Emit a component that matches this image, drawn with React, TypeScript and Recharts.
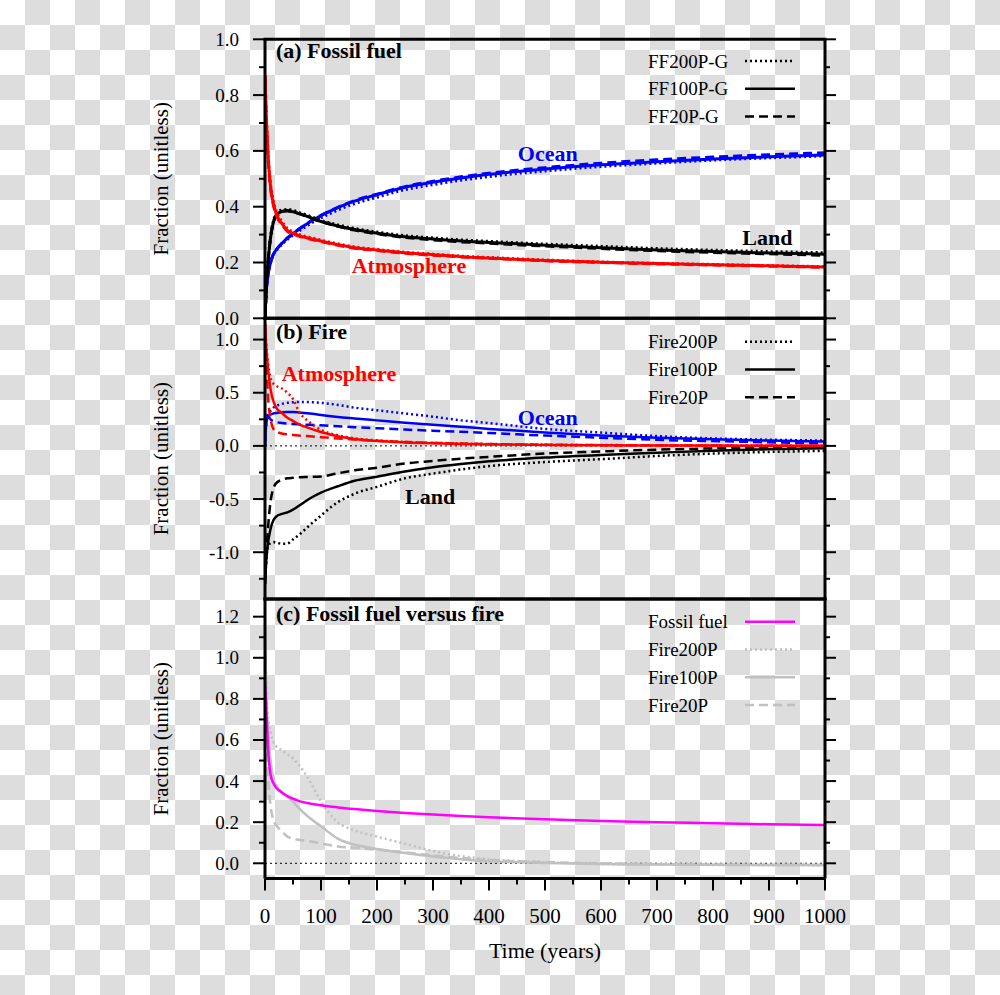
import React from 'react';
import {
  LineChart,
  Line,
  XAxis,
  YAxis,
  ReferenceLine,
  ReferenceDot,
} from 'recharts';

const SERIF = '"Liberation Serif", "Times New Roman", serif';
const RED = '#ff0000';
const BLUE = '#0000ff';
const BLACK = '#000000';
const MAGENTA = '#ff00ff';
const GREY = '#c0c0c0';
const DOT = '2 3';
const DASH = '9 5';

// time axis (years)
const years = [0, 2, 5, 10, 15, 20, 30, 40, 50, 60, 80, 100, 130, 160, 200, 250, 300, 350, 400, 500, 600, 700, 800, 900, 1000];

// (a) fossil fuel pulses
const ffAtm200 = [0.87, 0.75, 0.61, 0.48, 0.42, 0.385, 0.348, 0.322, 0.31, 0.301, 0.29, 0.28, 0.267, 0.256, 0.247, 0.237, 0.23, 0.223, 0.218, 0.209, 0.202, 0.197, 0.193, 0.189, 0.185];
const ffAtm100 = [0.87, 0.74, 0.6, 0.47, 0.41, 0.375, 0.34, 0.315, 0.305, 0.297, 0.286, 0.277, 0.264, 0.253, 0.245, 0.235, 0.228, 0.221, 0.216, 0.207, 0.201, 0.196, 0.192, 0.188, 0.184];
const ffAtm20 = [0.87, 0.73, 0.59, 0.465, 0.405, 0.37, 0.336, 0.312, 0.302, 0.295, 0.284, 0.275, 0.262, 0.251, 0.243, 0.233, 0.226, 0.22, 0.215, 0.206, 0.2, 0.195, 0.191, 0.187, 0.183];
const ffLand200 = [0, 0.1, 0.19, 0.29, 0.348, 0.375, 0.388, 0.39, 0.387, 0.38, 0.366, 0.351, 0.335, 0.322, 0.309, 0.296, 0.288, 0.281, 0.276, 0.266, 0.258, 0.25, 0.244, 0.239, 0.235];
const ffLand100 = [0, 0.1, 0.19, 0.29, 0.345, 0.37, 0.383, 0.386, 0.382, 0.376, 0.362, 0.347, 0.331, 0.318, 0.305, 0.292, 0.284, 0.277, 0.272, 0.262, 0.253, 0.245, 0.239, 0.234, 0.23];
const ffLand20 = [0, 0.1, 0.19, 0.29, 0.344, 0.369, 0.382, 0.385, 0.381, 0.375, 0.361, 0.346, 0.33, 0.316, 0.303, 0.29, 0.281, 0.274, 0.269, 0.259, 0.25, 0.242, 0.236, 0.231, 0.226];
const ffOcn200 = [0, 0.09, 0.15, 0.2, 0.228, 0.243, 0.265, 0.283, 0.298, 0.312, 0.338, 0.36, 0.388, 0.411, 0.434, 0.461, 0.479, 0.495, 0.508, 0.528, 0.544, 0.556, 0.567, 0.575, 0.582];
const ffOcn100 = [0, 0.09, 0.15, 0.2, 0.23, 0.245, 0.268, 0.287, 0.303, 0.318, 0.345, 0.368, 0.397, 0.42, 0.443, 0.47, 0.488, 0.503, 0.516, 0.535, 0.55, 0.561, 0.571, 0.579, 0.585];
const ffOcn20 = [0, 0.09, 0.15, 0.2, 0.23, 0.246, 0.269, 0.288, 0.304, 0.319, 0.346, 0.369, 0.398, 0.422, 0.445, 0.472, 0.491, 0.507, 0.52, 0.54, 0.556, 0.568, 0.578, 0.586, 0.593];

// (b) fire pulses
const fireAtm200 = [1.15, 0.98, 0.8, 0.64, 0.585, 0.565, 0.54, 0.5, 0.44, 0.33, 0.22, 0.15, 0.1, 0.072, 0.052, 0.038, 0.029, 0.023, 0.018, 0.012, 0.008, 0.006, 0.004, 0.003, 0.002];
const fireAtm100 = [1.15, 0.95, 0.75, 0.53, 0.42, 0.36, 0.31, 0.265, 0.235, 0.205, 0.165, 0.13, 0.09, 0.065, 0.045, 0.032, 0.024, 0.018, 0.014, 0.009, 0.006, 0.004, 0.003, 0.002, 0.001];
const fireAtm20 = [1.15, 0.85, 0.5, 0.25, 0.16, 0.135, 0.117, 0.108, 0.103, 0.098, 0.09, 0.082, 0.07, 0.06, 0.048, 0.037, 0.028, 0.022, 0.017, 0.011, 0.007, 0.005, 0.003, 0.002, 0.001];
const fireOcn200 = [0, 0.2, 0.3, 0.33, 0.36, 0.375, 0.395, 0.405, 0.41, 0.413, 0.412, 0.405, 0.385, 0.36, 0.335, 0.305, 0.275, 0.24, 0.215, 0.16, 0.125, 0.092, 0.07, 0.058, 0.05];
const fireOcn100 = [0, 0.2, 0.27, 0.295, 0.305, 0.31, 0.315, 0.318, 0.318, 0.315, 0.305, 0.29, 0.272, 0.258, 0.24, 0.218, 0.198, 0.18, 0.16, 0.126, 0.098, 0.077, 0.062, 0.05, 0.041];
const fireOcn20 = [0, 0.2, 0.28, 0.25, 0.232, 0.224, 0.216, 0.21, 0.206, 0.203, 0.198, 0.193, 0.185, 0.176, 0.166, 0.153, 0.143, 0.133, 0.121, 0.097, 0.077, 0.057, 0.045, 0.034, 0.026];
const fireLand200 = [-1.3, -1.1, -0.95, -0.915, -0.905, -0.91, -0.92, -0.918, -0.88, -0.84, -0.745, -0.655, -0.53, -0.45, -0.385, -0.305, -0.26, -0.222, -0.19, -0.152, -0.125, -0.095, -0.072, -0.057, -0.047];
const fireLand100 = [-1.3, -1.1, -0.93, -0.78, -0.7, -0.665, -0.64, -0.625, -0.6, -0.565, -0.495, -0.44, -0.38, -0.328, -0.29, -0.24, -0.2, -0.17, -0.145, -0.11, -0.085, -0.065, -0.045, -0.032, -0.022];
const fireLand20 = [-1.3, -1.05, -0.8, -0.52, -0.4, -0.35, -0.32, -0.305, -0.3, -0.296, -0.292, -0.288, -0.258, -0.23, -0.205, -0.165, -0.142, -0.12, -0.103, -0.072, -0.052, -0.035, -0.024, -0.017, -0.013];

// (c) airborne fraction, fossil fuel versus fire
const fossilAir = [0.87, 0.78, 0.58, 0.43, 0.39, 0.368, 0.345, 0.327, 0.314, 0.304, 0.291, 0.282, 0.272, 0.264, 0.255, 0.245, 0.237, 0.23, 0.224, 0.214, 0.206, 0.2, 0.195, 0.19, 0.186];
const fireAir200 = [1.15, 0.9, 0.72, 0.64, 0.59, 0.57, 0.55, 0.53, 0.51, 0.48, 0.4, 0.3, 0.2, 0.16, 0.13, 0.095, 0.06, 0.035, 0.02, 0.005, -0.003, -0.006, -0.008, -0.009, -0.009];
const fireAir100 = [1.15, 0.85, 0.66, 0.5, 0.41, 0.38, 0.345, 0.325, 0.3, 0.27, 0.22, 0.18, 0.12, 0.09, 0.07, 0.05, 0.033, 0.02, 0.01, 0.002, -0.004, -0.006, -0.007, -0.008, -0.008];
const fireAir20 = [1.15, 0.75, 0.45, 0.28, 0.21, 0.185, 0.155, 0.13, 0.12, 0.115, 0.107, 0.097, 0.082, 0.075, 0.066, 0.053, 0.038, 0.026, 0.016, 0.006, 0, -0.004, -0.006, -0.007, -0.008];

// axis ticks
const xTicks = [0, 50, 100, 150, 200, 250, 300, 350, 400, 450, 500, 550, 600, 650, 700, 750, 800, 850, 900, 950, 1000];
const xMajor = [0, 100, 200, 300, 400, 500, 600, 700, 800, 900, 1000];
const yMajorA = [0, 0.2, 0.4, 0.6, 0.8, 1.0];
const yMinorA = [0.1, 0.3, 0.5, 0.7, 0.9];
const yMajorB = [-1.0, -0.5, 0, 0.5, 1.0];
const yMinorB = [-1.25, -0.75, -0.25, 0.25, 0.75];
const yMajorC = [0, 0.2, 0.4, 0.6, 0.8, 1.0, 1.2];
const yMinorC = [0.1, 0.3, 0.5, 0.7, 0.9, 1.1];
const domainA = [0, 1];
const domainB = [-1.44, 1.2];
const domainC = [-0.074, 1.286];

const legendA = ['FF200P-G', 'FF100P-G', 'FF20P-G'];
const legendB = ['Fire200P', 'Fire100P', 'Fire20P'];
const legendC = ['Fossil fuel', 'Fire200P', 'Fire100P', 'Fire20P'];

const table = (cols: Record<string, number[]>) =>
  years.map((t, i) => {
    const row: Record<string, number> = { t };
    Object.keys(cols).forEach((k) => (row[k] = cols[k][i]));
    return row;
  });

const dataA = table({ ffAtm200, ffAtm100, ffAtm20, ffLand200, ffLand100, ffLand20, ffOcn200, ffOcn100, ffOcn20 });
const dataB = table({ fireAtm200, fireAtm100, fireAtm20, fireOcn200, fireOcn100, fireOcn20, fireLand200, fireLand100, fireLand20 });
const dataC = table({ fossilAir, fireAir200, fireAir100, fireAir20 });

const seriesA = [
  { key: 'ffOcn200', color: BLUE, dash: DOT },
  { key: 'ffOcn100', color: BLUE, dash: undefined },
  { key: 'ffOcn20', color: BLUE, dash: DASH },
  { key: 'ffLand200', color: BLACK, dash: DOT },
  { key: 'ffLand100', color: BLACK, dash: undefined },
  { key: 'ffLand20', color: BLACK, dash: DASH },
  { key: 'ffAtm200', color: RED, dash: DOT },
  { key: 'ffAtm100', color: RED, dash: undefined },
  { key: 'ffAtm20', color: RED, dash: DASH },
];
const seriesB = [
  { key: 'fireLand200', color: BLACK, dash: DOT },
  { key: 'fireLand100', color: BLACK, dash: undefined },
  { key: 'fireLand20', color: BLACK, dash: DASH },
  { key: 'fireOcn200', color: BLUE, dash: DOT },
  { key: 'fireOcn100', color: BLUE, dash: undefined },
  { key: 'fireOcn20', color: BLUE, dash: DASH },
  { key: 'fireAtm200', color: RED, dash: DOT },
  { key: 'fireAtm100', color: RED, dash: undefined },
  { key: 'fireAtm20', color: RED, dash: DASH },
];
const seriesC = [
  { key: 'fireAir200', color: GREY, dash: DOT },
  { key: 'fireAir100', color: GREY, dash: undefined },
  { key: 'fireAir20', color: GREY, dash: DASH },
  { key: 'fossilAir', color: MAGENTA, dash: undefined },
];

const isIn = (list: number[], v: number) => list.some((m) => Math.abs(m - v) < 1e-6);
const fmt = (v: number) => (Math.abs(v) < 1e-9 ? '0.0' : v.toFixed(1));

const LeftTick = (props: any) => {
  const { x, y, payload, majors } = props;
  const major = isIn(majors, payload.value);
  return (
    <g>
      <line x1={x - (major ? 12 : 6)} x2={x} y1={y} y2={y} stroke="#000" strokeWidth={2} />
      {major && (
        <text x={x - 26} y={y} dy="0.34em" textAnchor="end" fontSize={19} fontFamily={SERIF} fill="#000">
          {fmt(payload.value)}
        </text>
      )}
    </g>
  );
};

const RightTick = (props: any) => {
  const { x, y, payload, majors } = props;
  const major = isIn(majors, payload.value);
  return <line x1={x} x2={x + (major ? 11 : 5)} y1={y} y2={y} stroke="#000" strokeWidth={2} />;
};

const BottomTick = (props: any) => {
  const { x, y, payload } = props;
  const major = isIn(xMajor, payload.value);
  return (
    <g>
      <line x1={x} x2={x} y1={y} y2={y + (major ? 12 : 6)} stroke="#000" strokeWidth={2} />
      {major && (
        <text x={x} y={y + 44} textAnchor="middle" fontSize={21} fontFamily={SERIF} fill="#000">
          {payload.value}
        </text>
      )}
    </g>
  );
};

const yTitle = {
  content: (p: any) => {
    const vb = p.viewBox || { x: 0, y: 0, width: 0, height: 0 };
    const cy = vb.y + vb.height / 2;
    return (
      <text transform={`translate(168,${cy}) rotate(-90)`} textAnchor="middle" fontSize={21} fontFamily={SERIF} fill="#000">
        Fraction (unitless)
      </text>
    );
  },
};

const xTitle = {
  content: (p: any) => {
    const vb = p.viewBox || { x: 0, y: 0, width: 0, height: 0 };
    return (
      <text x={vb.x + vb.width / 2} y={vb.y + 79} textAnchor="middle" fontSize={22} fontFamily={SERIF} fill="#000">
        Time (years)
      </text>
    );
  },
};

// text annotation anchored at a data position (baseline)
const note = (text: string, color: string, anchor: 'start' | 'middle' = 'middle') => ({
  content: (p: any) => {
    const vb = p.viewBox || { x: 0, y: 0, width: 0, height: 0 };
    return (
      <text
        x={vb.x + vb.width / 2}
        y={vb.y + vb.height / 2}
        textAnchor={anchor}
        fontSize={22}
        fontWeight="bold"
        fontFamily={SERIF}
        fill={color}
      >
        {text}
      </text>
    );
  },
});

const Note = (t: number, v: number, text: string, color: string, anchor: 'start' | 'middle' = 'middle') => (
  <ReferenceDot key={text + t} x={t} y={v} r={1} fill="none" stroke="none" ifOverflow="visible" label={note(text, color, anchor)} />
);

const edge = { stroke: '#000', strokeWidth: 3 };

// left + right y axes (right one only carries the outward ticks); frame comes from their axis lines
const yAxes = (domain: number[], majors: number[], minors: number[]) => [
  <YAxis
    key="l"
    type="number"
    domain={domain}
    allowDataOverflow
    ticks={[...majors, ...minors]}
    interval={0}
    width={60}
    tickSize={0}
    tickMargin={0}
    tickLine={false}
    axisLine={edge}
    tick={(p: any) => <LeftTick {...p} majors={majors} />}
    label={yTitle}
  />,
  <YAxis
    key="r"
    yAxisId="r"
    orientation="right"
    type="number"
    domain={domain}
    allowDataOverflow
    ticks={[...majors, ...minors]}
    interval={0}
    width={60}
    tickSize={0}
    tickMargin={0}
    tickLine={false}
    axisLine={edge}
    tick={(p: any) => <RightTick {...p} majors={majors} />}
  />,
];

const hLine = (v: number) => <ReferenceLine key={'edge' + v} y={v} stroke="#000" strokeWidth={3} strokeLinecap="square" />;

const layer: React.CSSProperties = { position: 'absolute', left: 0, top: 0 };

const Legend = ({ items, top, colors, dashes }: { items: string[]; top: number; colors: string[]; dashes: (string | undefined)[] }) => (
  <g>
    {items.map((name, i) => {
      const cy = top + i * 27.8;
      return (
        <g key={name + i}>
          <text x={648} y={cy + 6.5} fontSize={19} fontFamily={SERIF} fill="#000">
            {name}
          </text>
          <line x1={745} x2={795} y1={cy} y2={cy} stroke={colors[i]} strokeWidth={2.5} strokeDasharray={dashes[i]} />
        </g>
      );
    })}
  </g>
);

const lines = (series: { key: string; color: string; dash?: string }[], width: number) =>
  series.map((s) => (
    <Line
      key={s.key}
      type="monotone"
      dataKey={s.key}
      stroke={s.color}
      strokeWidth={width}
      strokeDasharray={s.dash}
      dot={false}
      isAnimationActive={false}
    />
  ));

export default function App() {
  return (
    <div
      style={{
        position: 'absolute',
        left: 0,
        top: 0,
        width: 1000,
        height: 995,
        overflow: 'hidden',
        background: 'repeating-conic-gradient(#dddddd 0 25%, #ffffff 0 50%) 0 0 / 50px 50px',
      }}
    >
      {/* (a) Fossil fuel */}
      <div style={layer}>
        <LineChart width={1000} height={995} data={dataA} margin={{ top: 39.3, right: 115, bottom: 676.7, left: 205 }}>
          <XAxis dataKey="t" type="number" domain={[0, 1000]} allowDataOverflow hide />
          {yAxes(domainA, yMajorA, yMinorA)}
          {lines(seriesA, 3)}
          {hLine(domainA[1])}
          {hLine(domainA[0])}
          {Note(19.6, 0.933, '(a) Fossil fuel', BLACK, 'start')}
          {Note(505, 0.564, 'Ocean', BLUE)}
          {Note(897, 0.263, 'Land', BLACK)}
          {Note(257, 0.161, 'Atmosphere', RED)}
        </LineChart>
      </div>

      {/* (b) Fire */}
      <div style={layer}>
        <LineChart width={1000} height={995} data={dataB} margin={{ top: 318.3, right: 115, bottom: 396, left: 205 }}>
          <XAxis dataKey="t" type="number" domain={[0, 1000]} allowDataOverflow hide />
          {yAxes(domainB, yMajorB, yMinorB)}
          <ReferenceLine y={0} stroke="#000" strokeWidth={1} strokeDasharray="2 3" />
          {lines(seriesB, 2.5)}
          {hLine(domainB[1])}
          {hLine(domainB[0])}
          {Note(19.6, 1.008, '(b) Fire', BLACK, 'start')}
          {Note(132, 0.606, 'Atmosphere', RED)}
          {Note(505, 0.198, 'Ocean', BLUE)}
          {Note(295, -0.546, 'Land', BLACK)}
        </LineChart>
      </div>

      {/* (c) Fossil fuel versus fire */}
      <div style={layer}>
        <LineChart width={1000} height={995} data={dataC} margin={{ top: 599, right: 115, bottom: 36.5, left: 205 }}>
          <XAxis
            dataKey="t"
            type="number"
            domain={[0, 1000]}
            allowDataOverflow
            ticks={xTicks}
            interval={0}
            height={80}
            tickSize={0}
            tickMargin={0}
            tickLine={false}
            axisLine={edge}
            tick={(p: any) => <BottomTick {...p} />}
            label={xTitle}
          />
          {yAxes(domainC, yMajorC, yMinorC)}
          <ReferenceLine y={0} stroke="#000" strokeWidth={1} strokeDasharray="2 3" />
          {lines(seriesC, 2.5)}
          {hLine(domainC[1])}
          {Note(19.6, 1.179, '(c) Fossil fuel versus fire', BLACK, 'start')}
        </LineChart>
      </div>

      {/* legends */}
      <svg width={1000} height={995} style={{ ...layer, pointerEvents: 'none' }}>
        <Legend items={legendA} top={61} colors={[BLACK, BLACK, BLACK]} dashes={[DOT, undefined, DASH]} />
        <Legend items={legendB} top={341.7} colors={[BLACK, BLACK, BLACK]} dashes={[DOT, undefined, DASH]} />
        <Legend items={legendC} top={621.7} colors={[MAGENTA, GREY, GREY, GREY]} dashes={[undefined, DOT, undefined, DASH]} />
      </svg>
    </div>
  );
}
